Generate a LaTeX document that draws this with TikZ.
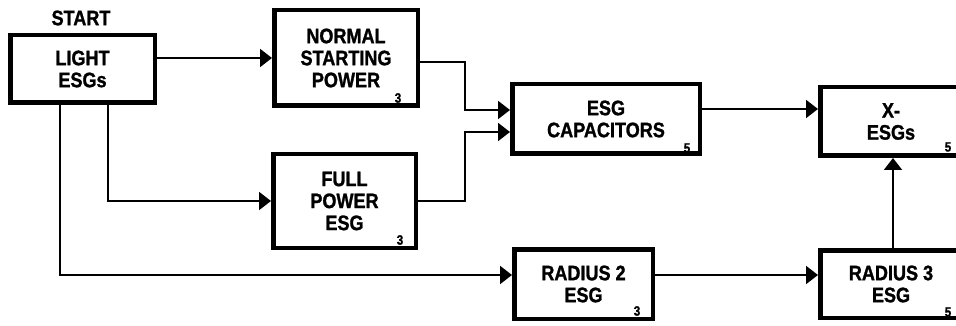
\documentclass[tikz,border=0pt]{standalone}
\usepackage{fontspec}
\setmainfont[FakeStretch=0.86, BoldFeatures={FakeBold=1.2}]{Liberation Sans}
\usetikzlibrary{arrows.meta}
\tikzset{
  blk/.style={draw=black, line width=4.5pt, fill=white, align=center, inner sep=0pt,
    font=\fontsize{21}{22}\selectfont\bfseries},
  arr/.style={line width=2pt, -{Triangle[length=12pt,width=18pt]}},
  num/.style={font=\fontsize{13.5}{14}\selectfont\bfseries, inner sep=0pt},
  lbl/.style={font=\fontsize{21}{22}\selectfont\bfseries, inner sep=0pt}
}
\begin{document}
\begin{tikzpicture}[x=1pt,y=-1pt]
\useasboundingbox (0,0) rectangle (956,326);
\clip (0,0) rectangle (956,326);
% boxes (outer extents given; size = extent - line width)
\node[blk, minimum width=144.5pt, minimum height=67.5pt] (light) at (82.5,69) {LIGHT\\ESGs};
\node[lbl] (start) at (81,18) {START};
\node[blk, minimum width=143.5pt, minimum height=95.5pt] (normal) at (346,58) {NORMAL\\STARTING\\POWER};
\node[blk, minimum width=142.5pt, minimum height=93.5pt] (full) at (344.5,201) {FULL\\POWER\\ESG};
\node[blk, minimum width=187.5pt, minimum height=69.5pt] (cap) at (606,119) {ESG\\CAPACITORS};
\node[blk, minimum width=141.5pt, minimum height=68.5pt] (xesg) at (891,121.5) {X-\\ESGs};
\node[blk, minimum width=138.5pt, minimum height=69.5pt] (r2) at (583.5,284) {RADIUS 2\\ESG};
\node[blk, minimum width=141.5pt, minimum height=67.5pt] (r3) at (891,284) {RADIUS 3\\ESG};
% small numbers
\node[num] (n1) at (398,98) {3};
\node[num] (n2) at (400,240) {3};
\node[num] (n3) at (687,148) {5};
\node[num] (n4) at (948,147) {5};
\node[num] (n5) at (637,311) {3};
\node[num] (n6) at (948,312) {5};
% connectors
\draw[arr] (normal.west -| light.east) -- (normal.west);
\draw[arr] ([xshift=25.5pt]light.south) |- (full.west);
\draw[arr] ([xshift=-22.5pt]light.south) |- ([yshift=9pt]r2.west);
\draw[arr] ([yshift=-4pt]normal.east) -- ++(45pt,0) |- ([yshift=9pt]cap.west);
\draw[arr] (full.east) -- ++(47pt,0) |- ([yshift=-13pt]cap.west);
\draw[arr] ([yshift=10pt]cap.east) -- ([yshift=10pt]cap.east -| xesg.west);
\draw[arr] ([yshift=9pt]r2.east) -- ([yshift=9pt]r2.east -| r3.west);
\draw[arr] ([xshift=2pt]r3.north) -- ([xshift=2pt]xesg.south);
\end{tikzpicture}
\end{document}
